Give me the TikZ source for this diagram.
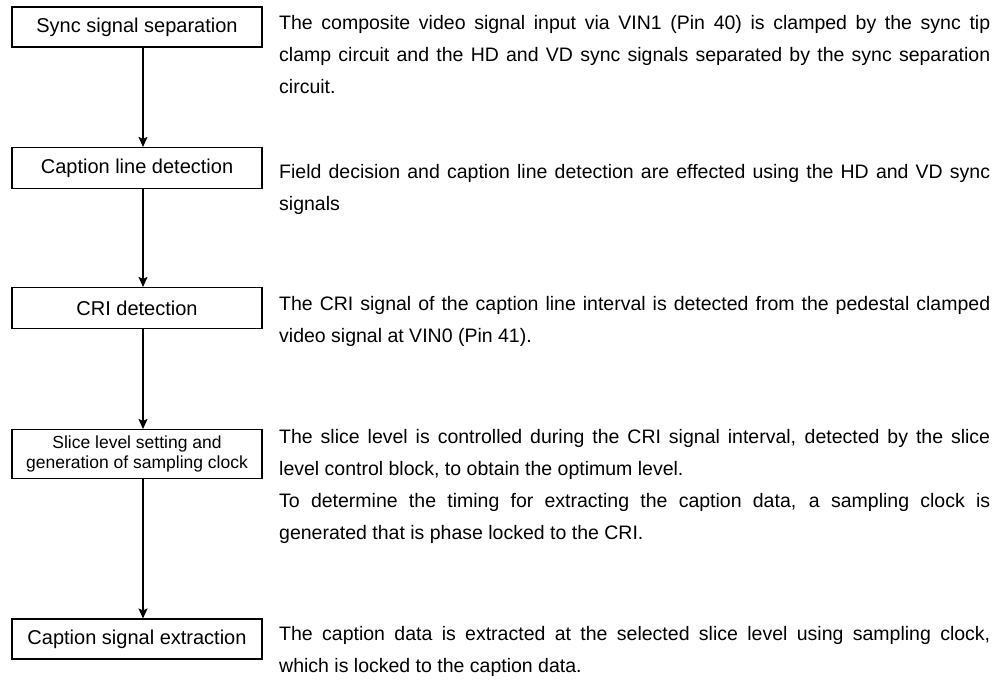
\documentclass[tikz,border=0pt]{standalone}
\usepackage{fontspec}
\setmainfont{Liberation Sans}
\usepackage{tikz}
\usetikzlibrary{arrows.meta,positioning}

\begin{document}
\begin{tikzpicture}[x=1pt,y=-1pt,
    blk/.style={draw=black,line width=1.1pt,fill=white,align=center,font=\fontsize{20}{24}\selectfont,minimum width=250pt,minimum height=40pt,inner sep=0pt},
    txt/.style={anchor=base west,align=justify,text width=711pt,inner sep=0pt,font=\fontsize{19.5}{32}\selectfont},
    arr/.style={-{Stealth[length=10pt,width=9pt,inset=2pt]},line width=1.1pt}]
   \useasboundingbox (0,0) rectangle (995,682);
   \node[blk] (S1) at (137,27) {Sync signal separation};
   \node[blk,minimum height=41pt] (S2) at (137,168) {Caption line detection};
   \node[blk,minimum height=41pt] (S3) at (137,308) {CRI detection};
   \node[blk,font=\fontsize{17.5}{20}\selectfont,minimum height=49pt] (S4) at (137,454) {Slice level setting and\\generation of sampling clock};
   \node[blk,minimum height=40pt] (S5) at (137,639) {Caption signal extraction};
   \draw[arr] ([xshift=6pt]S1.south)--([xshift=6pt]S2.north);
   \draw[arr] ([xshift=6pt]S2.south)--([xshift=6pt]S3.north);
   \draw[arr] ([xshift=6pt]S3.south)--([xshift=6pt]S4.north);
   \draw[arr] ([xshift=6pt]S4.south)--([xshift=6pt]S5.north);
   \node[txt] (D1) at (279,30) {The composite video signal input via VIN1 (Pin 40) is clamped by the sync tip \linebreak clamp circuit and the HD and VD sync signals separated by the sync separation \linebreak circuit.};
   \node[txt] (D2) at (279,178) {Field decision and caption line detection are effected using the HD and VD sync \linebreak signals};
   \node[txt] (D3) at (279,310) {The CRI signal of the caption line interval is detected from the pedestal clamped \linebreak video signal at VIN0 (Pin 41).};
   \node[txt] (D4) at (279,443) {The slice level is controlled during the CRI signal interval, detected by the slice \linebreak level control block, to obtain the optimum level.\\To determine the timing for extracting the caption data, a sampling clock is \linebreak generated that is phase locked to the CRI.};
   \node[txt] (D5) at (279,640) {The caption data is extracted at the selected slice level using sampling clock, \linebreak which is locked to the caption data.};
  \end{tikzpicture}
\end{document}
